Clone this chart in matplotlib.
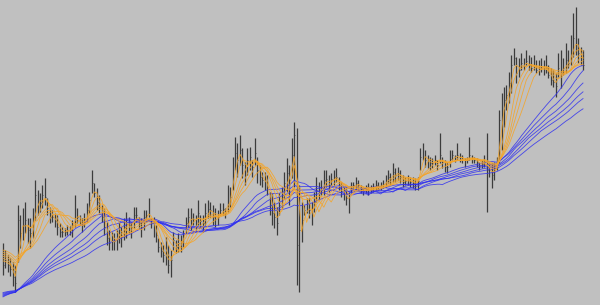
import numpy as np
import matplotlib.pyplot as plt

# price bars (arbitrary points scale)
high = [62, 55, 50, 47, 43, 40, 100, 90, 97, 103, 87, 87, 97, 125, 115, 112, 120, 127, 107, 98,
        95, 92, 90, 82, 78, 77, 80, 79, 85, 110, 97, 90, 87, 92, 102, 113, 135,
        122, 117, 110, 100, 97, 83, 75, 73, 72, 75, 83, 78, 87, 93, 88, 83, 98, 98, 88, 87,
        95, 95, 107, 87, 88, 80, 67, 63, 60, 68, 60, 55, 73, 65, 72, 70, 75, 88, 97, 97, 92, 90,
        105, 90, 90, 102, 105, 103, 100, 97, 95, 102, 102, 97, 120, 118, 148, 168, 162, 170, 157, 143,
        157, 158, 145, 167, 148, 140, 133, 133, 130, 113, 112, 103, 98, 112, 118, 133, 147, 140, 167,
        183, 177, 120, 103, 100, 107, 107, 103, 113, 128, 123, 125, 135, 135, 130, 132, 135, 137, 128, 123,
        118, 117, 113, 123, 123, 128, 125, 120, 118, 120, 122, 120, 122, 125, 123, 123, 125, 130, 135, 132, 142, 137,
        138, 135, 130, 128, 130, 128, 128, 127, 128, 157, 162, 155, 150, 148, 147, 150, 145, 172, 148, 145,
        143, 155, 155, 150, 162, 152, 150, 147, 148, 168, 150, 148, 147, 143, 145, 150, 172, 142, 142, 143, 148, 195,
        212, 218, 220, 233, 250, 257, 248, 247, 252, 247, 255, 250, 248, 250, 245, 245, 247, 245, 250, 240,
        237, 235, 232, 252, 255, 247, 262, 255, 270, 292, 298, 267, 258, 255]
low = [30, 37, 33, 29, 19, 13, 43, 57, 65, 72, 62, 57, 67, 85, 90, 93, 97, 100, 90, 82,
       83, 78, 70, 68, 68, 69, 70, 70, 68, 78, 82, 80, 73, 78, 83, 92, 112,
       108, 95, 92, 83, 70, 60, 55, 55, 55, 55, 62, 58, 65, 67, 72, 67, 77, 83, 77, 68,
       75, 83, 88, 77, 68, 63, 53, 48, 43, 40, 32, 28, 55, 52, 53, 53, 58, 72, 78, 75, 80, 75,
       80, 78, 73, 80, 87, 88, 80, 78, 80, 90, 90, 87, 93, 98, 115, 135, 128, 140, 127, 120,
       130, 135, 128, 140, 122, 120, 118, 115, 110, 90, 80, 77, 70, 90, 97, 107, 113, 100, 127,
       118, 20, 13, 63, 90, 92, 87, 80, 93, 103, 105, 110, 110, 118, 113, 120, 120, 123, 115, 108,
       105, 100, 92, 112, 117, 115, 115, 112, 110, 112, 110, 112, 113, 115, 115, 115, 117, 118, 122, 120, 123, 123,
       125, 122, 118, 120, 120, 118, 117, 115, 115, 135, 145, 138, 137, 135, 137, 140, 135, 142, 137, 133,
       132, 138, 145, 143, 145, 143, 142, 138, 142, 145, 142, 142, 138, 135, 137, 138, 93, 128, 117, 125, 135, 142,
       155, 178, 195, 202, 212, 240, 222, 228, 235, 235, 240, 235, 233, 235, 232, 230, 233, 230, 232, 227,
       220, 218, 208, 228, 217, 230, 232, 237, 240, 248, 250, 242, 240, 235]
close = [40, 45, 40, 36, 28, 22, 85, 72, 80, 85, 75, 72, 85, 110, 100, 102, 110, 108, 97, 88,
         88, 84, 78, 73, 73, 73, 75, 75, 80, 95, 88, 84, 80, 86, 95, 105, 122,
         112, 103, 98, 88, 78, 67, 62, 63, 64, 68, 75, 70, 78, 85, 80, 78, 90, 90, 82, 78,
         88, 90, 95, 82, 75, 70, 58, 54, 50, 48, 40, 45, 65, 58, 62, 63, 70, 82, 88, 85, 86, 83,
         92, 84, 82, 92, 96, 95, 88, 86, 88, 95, 96, 92, 108, 108, 135, 152, 145, 155, 140, 130,
         145, 148, 138, 152, 135, 128, 125, 122, 118, 98, 92, 88, 82, 100, 108, 122, 132, 125, 150,
         170, 60, 75, 85, 95, 98, 95, 92, 103, 115, 113, 117, 125, 126, 120, 126, 128, 128, 120, 114,
         110, 107, 102, 117, 120, 122, 120, 116, 114, 116, 116, 116, 118, 120, 118, 119, 121, 124, 128, 126, 133, 130,
         132, 128, 123, 124, 125, 123, 122, 121, 124, 148, 152, 145, 143, 142, 142, 145, 140, 150, 143, 138,
         138, 146, 150, 146, 150, 147, 146, 143, 145, 150, 146, 145, 143, 139, 141, 144, 135, 135, 130, 135, 142, 185,
         195, 205, 210, 222, 240, 247, 232, 235, 242, 239, 244, 240, 237, 240, 235, 235, 237, 235, 237, 230,
         225, 223, 219, 237, 232, 237, 245, 242, 252, 267, 262, 252, 247, 240]

# guppy style moving averages; earlier levels (before the first bar)
short_periods = [3, 5, 8, 10, 12, 15]
short_prior = [46, 48, 50, 52, 54, 56]
long_periods = [30, 35, 40, 45, 50, 60]
long_prior = [7, 8, 9, 10, 11, 12]


def sma(values, period, prior):
    hist = [prior] * (period - 1) + list(values)
    return [np.mean(hist[i:i + period]) for i in range(len(values))]


n = len(close)
idx = np.arange(n)

fig = plt.figure(figsize=(6, 3.05), dpi=100, facecolor='#c0c0c0')
ax = fig.add_axes([0, 0, 1, 1])
ax.set_axis_off()

ax.vlines(idx, low, high, color='#3c3c3c', lw=0.9)
ax.hlines(close, idx, idx + 0.35, color='#3c3c3c', lw=0.5)

for p, s in zip(long_periods, long_prior):
    ax.plot(idx, sma(close, p, s), color='#2f2ff0', lw=0.6, alpha=0.85)
for p, s in zip(short_periods, short_prior):
    ax.plot(idx, sma(close, p, s), color='#f4a52a', lw=0.6, alpha=0.9)

step = 580 / (n - 1)
ax.set_xlim(-3 / step, (600 - 3) / step)
ax.set_ylim(0, 305)

fig.savefig('out.png', dpi=100, facecolor=fig.get_facecolor())
